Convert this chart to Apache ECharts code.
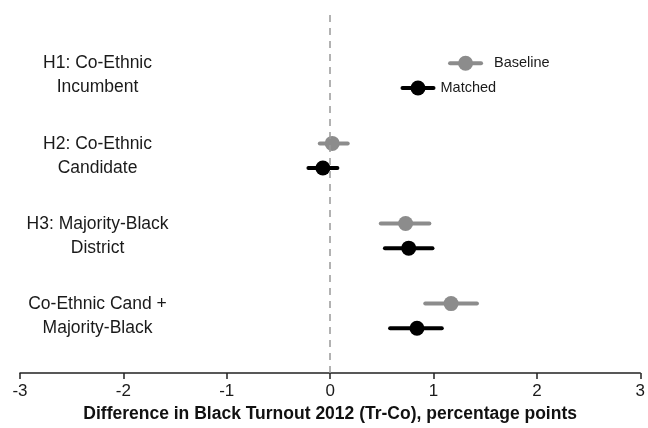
<!DOCTYPE html>
<html>
<head>
<meta charset="utf-8">
<script src="https://cdn.jsdelivr.net/npm/echarts@6/dist/echarts.min.js"></script>
<style>html,body{margin:0;padding:0;background:#fff}#c{width:648px;height:428px}</style>
</head>
<body>
<div id="c"></div>
<script>
var groups = ['H1: Co-Ethnic\nIncumbent', 'H2: Co-Ethnic\nCandidate', 'H3: Majority-Black\nDistrict', 'Co-Ethnic Cand +\nMajority-Black'];
var baselineEst = [1.31, 0.02, 0.73, 1.17];
var baselineLo  = [1.16, -0.10, 0.49, 0.92];
var baselineHi  = [1.46, 0.17, 0.96, 1.42];
var matchedEst  = [0.85, -0.07, 0.76, 0.84];
var matchedLo   = [0.70, -0.21, 0.53, 0.58];
var matchedHi   = [1.00, 0.07, 0.99, 1.08];
var xTicks = [-3, -2, -1, 0, 1, 2, 3];
var xTitle = 'Difference in Black Turnout 2012 (Tr-Co), percentage points';
var seriesNames = ['Baseline', 'Matched'];

var OFF = 0.154;
var GRAY = '#8c8c8c', BLACK = '#000000';
var FONT = 'Liberation Sans, Arial, Helvetica, sans-serif';

function barData(lo, hi, off) {
  return lo.map(function (l, i) { return [l, hi[i], i + off]; });
}
function ptData(est, off) {
  return est.map(function (e, i) { return [e, i + off]; });
}
function barSeries(lo, hi, off, color) {
  return {
    type: 'custom',
    data: barData(lo, hi, off),
    encode: { x: [0, 1], y: 2 },
    renderItem: function (params, api) {
      var a = api.coord([api.value(0), api.value(2)]);
      var b = api.coord([api.value(1), api.value(2)]);
      return { type: 'line', shape: { x1: a[0], y1: a[1], x2: b[0], y2: b[1] },
        style: { stroke: color, lineWidth: 4, lineCap: 'round' } };
    },
    z: 2, silent: true
  };
}

var chart = echarts.init(document.getElementById('c'), null, { renderer: 'canvas' });
chart.setOption({
  animation: false,
  backgroundColor: '#fff',
  grid: { left: 20, right: 5, top: 15, bottom: 50 },
  xAxis: {
    type: 'value', min: xTicks[0], max: xTicks[xTicks.length - 1], interval: 1,
    splitLine: { show: false },
    axisLine: { show: true, onZero: false, lineStyle: { color: '#222', width: 1.5 } },
    axisTick: { show: true, inside: false, length: 6, lineStyle: { color: '#222', width: 1.5 } },
    axisLabel: { fontSize: 17, color: '#1a1a1a', margin: 10, fontFamily: FONT },
    name: xTitle, nameLocation: 'middle', nameGap: 31,
    nameTextStyle: { fontSize: 17.5, fontWeight: 'bold', color: '#111', fontFamily: FONT }
  },
  yAxis: { type: 'value', inverse: true, min: -0.757, max: 3.714, show: false },
  series: [
    {
      type: 'scatter', name: 'labels', silent: true, symbolSize: 1,
      itemStyle: { color: 'transparent', opacity: 1 },
      data: groups.map(function (g, i) { return { value: [-2.25, i], name: g }; }),
      label: { show: true, position: 'inside', formatter: function (p) { return p.name; },
        fontSize: 17.5, lineHeight: 24, color: '#1a1a1a', opacity: 1, align: 'center', fontFamily: FONT },
      markLine: {
        silent: true, symbol: 'none', label: { show: false },
        lineStyle: { type: [7, 6], color: '#999', width: 1.5, opacity: 1 },
        data: [{ xAxis: 0 }]
      }
    },
    barSeries(baselineLo, baselineHi, -OFF, GRAY),
    barSeries(matchedLo, matchedHi, OFF, BLACK),
    {
      type: 'scatter', name: seriesNames[0], symbolSize: 15, z: 3,
      itemStyle: { color: GRAY, opacity: 1 },
      data: ptData(baselineEst, -OFF).map(function (d, i) {
        return i === 0 ? { value: d, label: { show: true, formatter: seriesNames[0], position: 'right', distance: 21 } } : d;
      }),
      label: { show: false, fontSize: 14.5, color: '#1a1a1a', opacity: 1, fontFamily: FONT }
    },
    {
      type: 'scatter', name: seriesNames[1], symbolSize: 15, z: 3,
      itemStyle: { color: BLACK, opacity: 1 },
      data: ptData(matchedEst, OFF).map(function (d, i) {
        return i === 0 ? { value: d, label: { show: true, formatter: seriesNames[1], position: 'right', distance: 15 } } : d;
      }),
      label: { show: false, fontSize: 14.5, color: '#1a1a1a', opacity: 1, fontFamily: FONT }
    }
  ]
});
</script>
</body>
</html>
